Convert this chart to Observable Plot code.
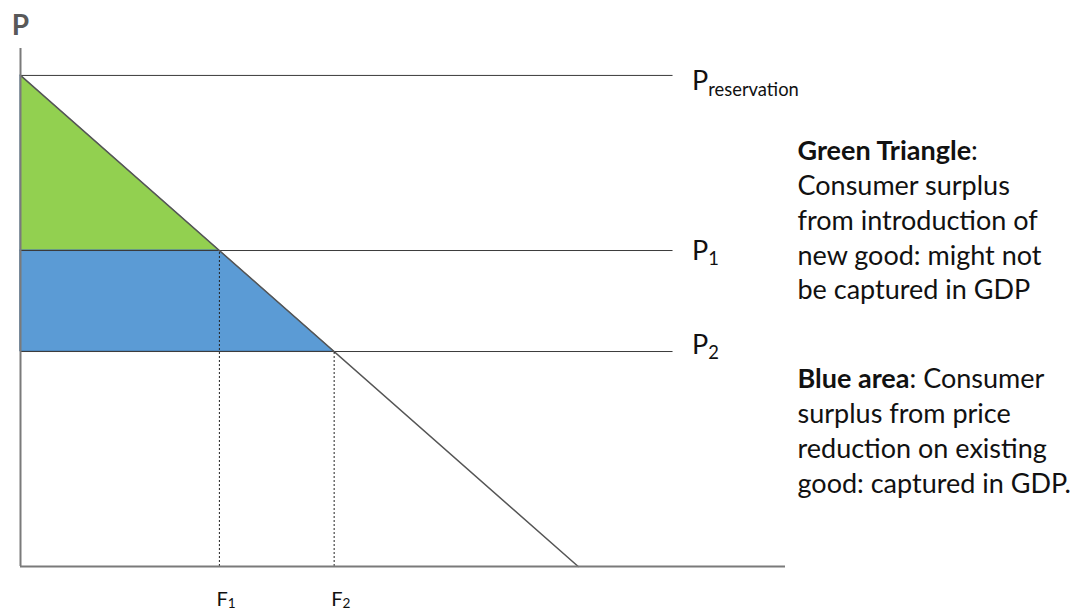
<!DOCTYPE html>
<html>
<head>
<meta charset="utf-8">
<script src="https://cdn.jsdelivr.net/npm/d3@7"></script>
<script src="https://cdn.jsdelivr.net/npm/@observablehq/plot@0.6"></script>
<style>
  html, body { margin: 0; padding: 0; background: #fff; }
  #chart svg { overflow: visible; display: block; }
</style>
</head>
<body>
<div id="chart"></div>
<script>
// ---- data ----
const priceLabels = ["P_{reservation}", "P_{1}", "P_{2}"];
const prices = [94.8, 61.0, 41.5];            // P reservation, P1, P2
const quantityLabels = ["F_{1}", "F_{2}"];
const quantities = [26.0, 41.0];              // F1, F2
const demandEnd = [72.9, 0];                  // demand line hits the quantity axis
const priceLineEnd = 85.3;                    // extent of the horizontal price lines
const axisLabel = "P";
const greenNote = ["**Green Triangle**:", "Consumer surplus", "from introduction of", "new good: might not", "be captured in GDP"];
const blueNote = ["**Blue area**: Consumer", "surplus from price", "reduction on existing", "good: captured in GDP."];

const [pRes, p1, p2] = prices;
const [f1, f2] = quantities;

const green = [
  {q: 0, lo: p1, hi: pRes},
  {q: f1, lo: p1, hi: p1}
];
const blue = [
  {q: 0, lo: p2, hi: p1},
  {q: f1, lo: p2, hi: p1},
  {q: f2, lo: p2, hi: p2}
];
const demand = [{q: 0, p: pRes}, {q: demandEnd[0], p: demandEnd[1]}];
const dotted = quantities.map((q, i) => ({q, top: prices[i + 1]}));

const FONT = "Lato, 'Open Sans', sans-serif";
const priceDy = [15, 9, 2];

const marks = [
  Plot.areaY(green, {x: "q", y1: "lo", y2: "hi", fill: "#92D050", stroke: "#6a8fb0", strokeWidth: 0.8, curve: "linear"}),
  Plot.areaY(blue, {x: "q", y1: "lo", y2: "hi", fill: "#5B9BD5", stroke: "#41719C", strokeWidth: 0.8, curve: "linear"}),
  Plot.ruleY(prices, {x1: 0, x2: priceLineEnd, stroke: "#3a3a3a", strokeWidth: 1}),
  Plot.line(demand, {x: "q", y: "p", stroke: "#555", strokeWidth: 1.5}),
  Plot.ruleX(dotted, {x: "q", y1: 0, y2: "top", stroke: "#222", strokeWidth: 1, strokeDasharray: "2,2"}),
  Plot.ruleX([0], {y1: 0, y2: 100, stroke: "#7a7a7a", strokeWidth: 2}),
  Plot.ruleY([0], {x1: 0, x2: 100, stroke: "#7a7a7a", strokeWidth: 2}),
  Plot.text([axisLabel], {x: 0, y: 100, dy: -14, text: d => d, lineAnchor: "bottom", textAnchor: "middle",
    fontSize: 28, fontWeight: "bold", fill: "#595959", fontFamily: FONT}),
  ...prices.map((p, i) => Plot.text([priceLabels[i]], {x: priceLineEnd, y: p, dx: 19, dy: priceDy[i], text: d => d,
    lineAnchor: "bottom", textAnchor: "start", fontSize: 27, fill: "#111", fontFamily: FONT})),
  Plot.text(quantities, {x: d => d, y: 0, dx: -3, dy: 39, text: (d, i) => quantityLabels[i],
    lineAnchor: "bottom", textAnchor: "start", fontSize: 20, fill: "#111", fontFamily: FONT}),
  Plot.text([greenNote.join("\n")], {frameAnchor: "top-left", dx: 777, dy: 86.5, text: d => d, lineAnchor: "top",
    textAnchor: "start", lineHeight: 1.293, fontSize: 27, fill: "#111", fontFamily: FONT}),
  Plot.text([blueNote.join("\n")], {frameAnchor: "top-left", dx: 777, dy: 314.5, text: d => d, lineAnchor: "top",
    textAnchor: "start", lineHeight: 1.293, fontSize: 27, fill: "#111", fontFamily: FONT})
];

const chart = Plot.plot({
  width: 1087,
  height: 611,
  marginLeft: 20,
  marginRight: 302,
  marginTop: 48,
  marginBottom: 45,
  x: {domain: [0, 100], axis: null},
  y: {domain: [0, 100], axis: null},
  style: {background: "#fff", fontFamily: FONT, overflow: "visible"},
  marks
});

// rich text: **bold** and _{subscript}
d3.select(chart).selectAll("text, tspan").each(function () {
  if (this.childNodes.length !== 1 || this.firstChild.nodeType !== 3) return;
  const s = this.textContent;
  if (!/\*\*|_\{/.test(s)) return;
  const el = d3.select(this);
  const isF = s.startsWith("F");
  el.text(null);
  const re = /\*\*(.+?)\*\*|_\{(.+?)\}|([^*_]+)/g;
  let m;
  while ((m = re.exec(s))) {
    if (m[1] != null) el.append("tspan").attr("font-weight", "bold").text(m[1]);
    else if (m[2] != null) el.append("tspan").attr("font-size", "0.68em").attr("dy", isF ? "0.2em" : "0.32em").text(m[2]);
    else el.append("tspan").text(m[3]);
  }
});

document.getElementById("chart").appendChild(chart);
</script>
</body>
</html>
